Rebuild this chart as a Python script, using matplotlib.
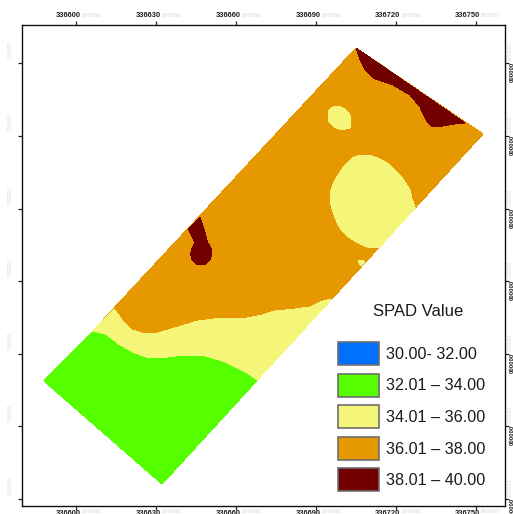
import matplotlib
matplotlib.use("Agg")
import matplotlib.pyplot as plt
from matplotlib.patches import Rectangle

plt.rcParams['font.family'] = ['Liberation Sans', 'DejaVu Sans']

W, H = 513, 514
# frame of the map, all outlines below are digitised in picture units
left, right, top, bottom = 21.7, 504.7, 25.0, 506.3

# ticks and labels
x_ticks = [76, 156, 236, 316, 396, 475.5]
x_labels = ['336600', '336630', '336660', '336690', '336720', '336750']
y_ticks = [63, 136, 209, 281, 354, 426, 499]
y_labels = ['000000'] * 7   # masked in the source picture
hidden_x = '000000'

# field outline
field_x = [356, 483, 256.5, 162, 44, 93, 114]
field_y = [48, 134, 381, 484, 381, 331, 308]

# lower zone
green_x = [44, 92, 105, 118, 132, 148, 168, 185, 205, 225, 245, 256.5, 162]
green_y = [381, 332, 335, 345, 353, 359, 358, 356, 357, 363, 373, 381, 484]

# yellow band between orange and green
band_x = [114, 122, 132, 142, 158, 178, 198, 222, 242, 262, 275, 295, 310, 320, 331.7,
          256.5, 245, 225, 205, 185, 168, 148, 132, 118, 105, 92]
band_y = [309, 320, 330, 333, 333, 327, 321, 318, 319, 315, 311, 309, 307, 302, 299,
          381, 373, 363, 357, 356, 358, 359, 353, 345, 335, 332]

# yellow patches inside the orange
spot_x = [334, 338, 342, 346, 349, 351, 351, 350, 346, 341, 336, 331, 328, 328, 329, 331]
spot_y = [106.5, 106, 107.5, 110, 113.5, 118, 123, 128, 129, 129.5, 128, 124, 120, 115, 110, 108]

blob_x = [357, 365, 372, 380, 387, 394, 400, 405, 410, 412, 415.1, 378.5, 372, 367, 358, 350,
          343, 338, 334, 331, 330, 331, 334, 338, 342, 347, 352]
blob_y = [156, 155, 156, 159, 163, 169, 175, 182, 190, 199, 208, 248, 248, 247, 243, 238,
          232, 225, 215, 205, 197, 190, 182, 175, 169, 163, 158]

sliver_x = [358, 362, 365, 361]
sliver_y = [261, 260, 262, 266]

# dark red zones
north_x = [356, 465, 455, 443, 432, 427, 420, 410, 393, 373, 365, 360]
north_y = [48, 123, 124, 126, 127, 122, 107, 95, 85, 78, 70, 60]

stem_x = [200, 188, 195, 192, 190.5, 192, 196, 201, 206, 210, 212, 211, 208, 207, 205]
stem_y = [217, 229, 243, 248, 254, 260, 264, 265, 264, 260, 254, 248, 243, 240, 232]

# legend
legend_title = 'SPAD Value'
legend_labels = ['30.00- 32.00', '32.01 \u2013 34.00', '34.01 \u2013 36.00',
                 '36.01 \u2013 38.00', '38.01 \u2013 40.00']
legend_colors = ['#0070ff', '#55ff00', '#f5f57a', '#e69800', '#730000']
legend_tops = [342, 373.5, 405, 436.5, 468]

fig = plt.figure(figsize=(W / 100, H / 100), dpi=100)
ax = fig.add_axes([left / W, 1 - bottom / H, (right - left) / W, (bottom - top) / H])
ax.set_xlim(left, right)
ax.set_ylim(bottom, top)

# aliased on purpose, the source is a raster map with stepped edges
ax.fill(field_x, field_y, color=legend_colors[3], lw=0, antialiased=False)
ax.fill(band_x, band_y, color=legend_colors[2], lw=0, antialiased=False)
ax.fill(green_x, green_y, color=legend_colors[1], lw=0, antialiased=False)
ax.fill(spot_x, spot_y, color=legend_colors[2], lw=0, antialiased=False)
ax.fill(blob_x, blob_y, color=legend_colors[2], lw=0, antialiased=False)
ax.fill(sliver_x, sliver_y, color=legend_colors[2], lw=0, antialiased=False)
ax.fill(north_x, north_y, color=legend_colors[4], lw=0, antialiased=False)
ax.fill(stem_x, stem_y, color=legend_colors[4], lw=0, antialiased=False)

for s in ax.spines.values():
    s.set_linewidth(1.0)
    s.set_color('#111111')

ax.set_xticks(x_ticks)
ax.set_yticks(y_ticks)
ax.tick_params(top=True, right=True, length=3, width=0.9, color='#222222',
               labelleft=False, labelbottom=False)

# tick labels: readable part plus the washed out part next to it
for x, lab in zip(x_ticks, x_labels):
    for y, va in [(19, 'bottom'), (510, 'top')]:
        ax.text(x + 4.5, y, lab, ha='right', va=va, fontsize=5.4, fontweight='bold',
                color='#222222', clip_on=False)
        ax.text(x + 5.5, y - 1, hidden_x, ha='left', va=va, fontsize=4.2,
                color='#d8d8d8', clip_on=False)

for y, lab in zip(y_ticks, y_labels):
    ax.text(10, y - 5, lab, rotation=90, ha='center', va='bottom', fontsize=3.6,
            color='#d8d8d8', clip_on=False)
    ax.text(512, y + 19, lab, rotation=90, ha='center', va='bottom', fontsize=4.4,
            fontweight='bold', color='#222222', clip_on=False)
    ax.text(510, y - 3, lab, rotation=90, ha='center', va='bottom', fontsize=3.6,
            color='#d8d8d8', clip_on=False)

ax.text(418, 312, legend_title, ha='center', va='center', fontsize=12, color='#1a1a1a')
for t, c, lab in zip(legend_tops, legend_colors, legend_labels):
    ax.add_patch(Rectangle((337.5, t), 41, 23, facecolor=c, edgecolor='#6e6e6e', lw=1.2))
    ax.text(385.5, t + 12.5, lab, ha='left', va='center', fontsize=11.6, color='#1a1a1a')

fig.savefig('out.png', dpi=100)
